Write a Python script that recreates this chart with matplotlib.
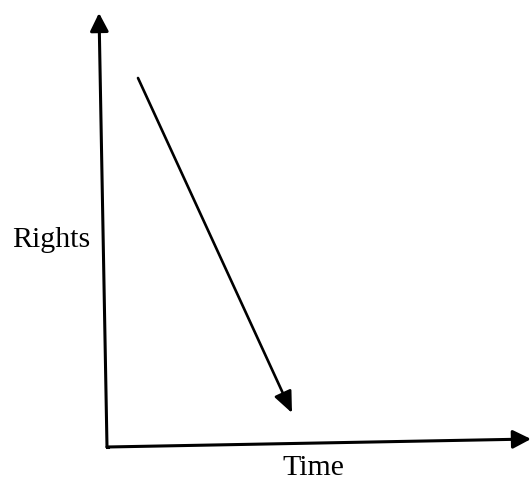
import matplotlib
matplotlib.use("Agg")
import matplotlib.pyplot as plt

# Schematic: rights decline over time (coordinates in figure pixel space)
origin = (107, 447)
y_axis_tip = (99, 13)
x_axis_tip = (531, 439)
trend_start = (138, 78)
trend_end = (292, 413)
y_label = "Rights"
x_label = "Time"

fig = plt.figure(figsize=(5.31, 4.83), dpi=100)
ax = fig.add_axes([0, 0, 1, 1])
ax.set_xlim(0, 531)
ax.set_ylim(483, 0)
ax.axis("off")

axis_style = "-|>,head_length=0.55,head_width=0.28"
for tip in (y_axis_tip, x_axis_tip):
    ax.annotate("", xy=tip, xytext=origin,
                arrowprops=dict(arrowstyle=axis_style, color="black", lw=2.2,
                                mutation_scale=20, shrinkA=0, shrinkB=0),
                annotation_clip=False)

ax.annotate("", xy=trend_end, xytext=trend_start,
            arrowprops=dict(arrowstyle="-|>,head_length=0.65,head_width=0.28",
                            color="black", lw=1.9, mutation_scale=20,
                            shrinkA=0, shrinkB=0))

# Corner joint
ax.plot([origin[0], origin[0] + 1], [origin[1], origin[1]], color="black", lw=2.2,
        solid_capstyle="projecting")

ax.text(12, 247, y_label, fontsize=21.5, family="Liberation Serif",
        ha="left", va="baseline")
ax.text(282, 475, x_label, fontsize=21.5, family="Liberation Serif",
        ha="left", va="baseline")

fig.savefig("out.png", dpi=100)
